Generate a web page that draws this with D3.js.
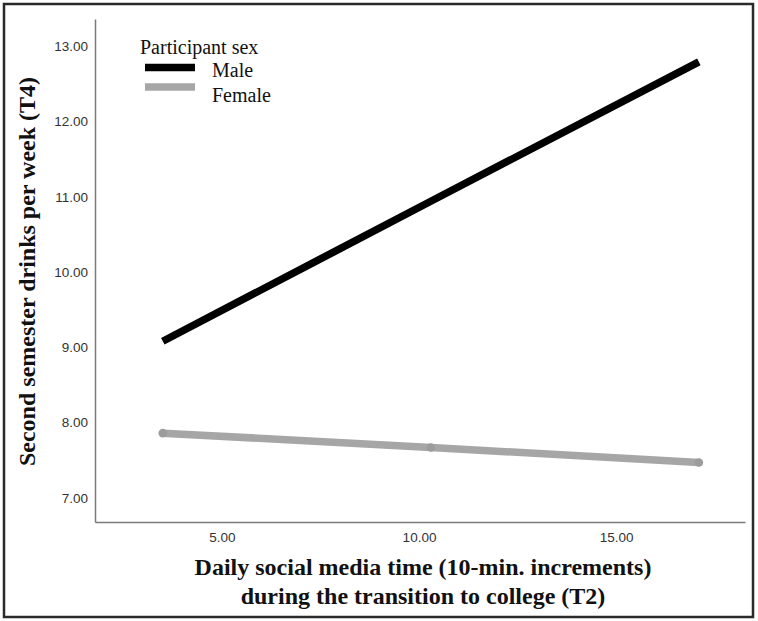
<!DOCTYPE html>
<html>
<head>
<meta charset="utf-8">
<script src="https://cdn.jsdelivr.net/npm/d3@7"></script>
<style>
  html, body { margin: 0; padding: 0; background: #fff; }
  svg { display: block; }
</style>
</head>
<body>
<script>
// ---- Data ----
const socialMediaTime = [3.5, 10.3, 17.1];
const maleDrinks = [9.08, 10.94, 12.79];
const femaleDrinks = [7.86, 7.67, 7.47];
const seriesNames = ["Male", "Female"];
const yTicks = [7, 8, 9, 10, 11, 12, 13];
const xTicks = [5, 10, 15];
const legendTitle = "Participant sex";
const xTitleLines = ["Daily social media time (10-min. increments)", "during the transition to college (T2)"];
const yTitle = "Second semester drinks per week (T4)";

const W = 758, H = 621;
const svg = d3.select("body").append("svg").attr("width", W).attr("height", H);

svg.append("rect").attr("x", 4).attr("y", 4).attr("width", 749).attr("height", 613)
  .attr("fill", "#fff").attr("stroke", "#2a2a2a").attr("stroke-width", 2.5);

const x = d3.scaleLinear().domain([1.78, 18.27]).range([95, 745]);
const y = d3.scaleLinear().domain([6.68, 13.36]).range([522, 19]);

// axes
const xAxis = svg.append("g").attr("transform", `translate(0,${y.range()[0]})`)
  .call(d3.axisBottom(x).tickValues(xTicks).tickSize(0).tickPadding(10).tickFormat(d3.format(".2f")));
const yAxis = svg.append("g").attr("transform", `translate(${x.range()[0]},0)`)
  .call(d3.axisLeft(y).tickValues(yTicks).tickSize(0).tickPadding(7).tickFormat(d3.format(".2f")));
[xAxis, yAxis].forEach(g => {
  g.select(".domain").attr("stroke", "#7a7a7a").attr("stroke-width", 1.5);
  g.selectAll("text").attr("font-family", "'Liberation Sans', Arial, sans-serif")
    .attr("font-size", 13.5).attr("fill", "#333");
});

// lines
const series = [
  { name: seriesNames[0], values: maleDrinks, color: "#000", markers: false },
  { name: seriesNames[1], values: femaleDrinks, color: "#a6a6a6", markers: true }
];
const line = d3.line().x(d => x(d[0])).y(d => y(d[1]));
series.forEach(s => {
  const pts = socialMediaTime.map((t, i) => [t, s.values[i]]);
  svg.append("path").datum(pts).attr("d", line)
    .attr("fill", "none").attr("stroke", s.color).attr("stroke-width", 7.5)
    .attr("stroke-linecap", "butt");
  if (s.markers) {
    svg.selectAll(null).data(pts).enter().append("circle")
      .attr("cx", d => x(d[0])).attr("cy", d => y(d[1])).attr("r", 4.3)
      .attr("fill", "#9c9c9c");
  }
});

// legend
const serif = "'Liberation Serif', 'Times New Roman', serif";
svg.append("text").attr("x", 140).attr("y", 54).attr("font-family", serif)
  .attr("font-size", 20).attr("fill", "#111").text(legendTitle);
series.forEach((s, i) => {
  const cy = 67.5 + i * 19.5;
  svg.append("line").attr("x1", 145).attr("x2", 195).attr("y1", cy).attr("y2", cy)
    .attr("stroke", s.color).attr("stroke-width", 7.5);
  svg.append("text").attr("x", 212).attr("y", 77 + i * 24.5).attr("font-family", serif)
    .attr("font-size", 20).attr("fill", "#111").text(s.name);
});

// axis titles
const xc = (x.range()[0] + x.range()[1]) / 2 + 3;
xTitleLines.forEach((t, i) => {
  svg.append("text").attr("x", xc).attr("y", 575 + i * 28.5).attr("text-anchor", "middle")
    .attr("font-family", serif).attr("font-weight", "bold").attr("font-size", 24)
    .attr("fill", "#111").text(t);
});
const yc = (y.range()[0] + y.range()[1]) / 2 + 1;
svg.append("text").attr("transform", `translate(35,${yc}) rotate(-90)`)
  .attr("text-anchor", "middle").attr("font-family", serif).attr("font-weight", "bold")
  .attr("font-size", 24).attr("fill", "#111").text(yTitle);
</script>
</body>
</html>
